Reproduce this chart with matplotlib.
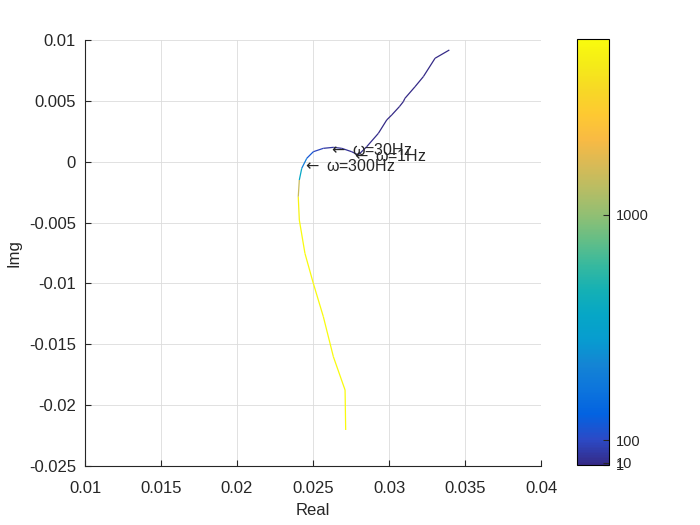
import numpy as np
import matplotlib
matplotlib.use('Agg')
import matplotlib.pyplot as plt
from matplotlib.collections import LineCollection
from matplotlib.colors import LinearSegmentedColormap, Normalize
from matplotlib.ticker import FuncFormatter

plt.rcParams['font.family'] = ['Liberation Sans', 'DejaVu Sans']
plt.rcParams['axes.unicode_minus'] = False
plt.rcParams['mathtext.fontset'] = 'dejavusans'

# frequency response points (real, imag, freq in Hz)
re_part = [0.03397, 0.03303, 0.03226, 0.03171, 0.03105, 0.03094, 0.03068,
           0.03018, 0.02985, 0.02930, 0.02853, 0.02798, 0.02755, 0.02689,
           0.02634, 0.02568, 0.02502, 0.02459, 0.02426, 0.02410, 0.02403,
           0.02410, 0.02447, 0.02502, 0.02568, 0.02634, 0.02711, 0.02715]
im_part = [0.00918, 0.00850, 0.00699, 0.00616, 0.00521, 0.00493, 0.00452,
           0.00384, 0.00343, 0.00233, 0.00123, 0.00055, 0.00082, 0.00110,
           0.00118, 0.00110, 0.00082, 0.00028, -0.00054, -0.00150, -0.00288,
           -0.00479, -0.00753, -0.00999, -0.01273, -0.01602, -0.01876, -0.02204]
freq = [1, 1.5, 2, 2.5, 3, 3.5, 4, 5, 6, 8, 10, 14, 18, 24, 30, 60, 120,
        200, 500, 700, 1600, 1700, 1700, 1700, 1700, 1700, 1700, 1700]

marks = [r'$\leftarrow$ ω=30Hz', r'$\leftarrow$ ω=1Hz', r'$\leftarrow$ ω=300Hz']
mark_x = [0.02597, 0.02750, 0.02427]
mark_y = [0.00100, 0.00047, -0.00035]

cbar_ticks = [1, 10, 100, 1000]

# parula-like colormap
parula_pts = [
    [0.2081, 0.1663, 0.5292], [0.1707, 0.2919, 0.7792], [0.0117, 0.3875, 0.8820],
    [0.0499, 0.4586, 0.8641], [0.0794, 0.5200, 0.8312], [0.0265, 0.6137, 0.8135],
    [0.0228, 0.6535, 0.7768], [0.0843, 0.6928, 0.7062], [0.2178, 0.7250, 0.6193],
    [0.3953, 0.7459, 0.5244], [0.5709, 0.7485, 0.4494], [0.7184, 0.7411, 0.3905],
    [0.8507, 0.7299, 0.3360], [0.9739, 0.7314, 0.2666], [0.9955, 0.7861, 0.1967],
    [0.9697, 0.8481, 0.1475], [0.9598, 0.9218, 0.0948], [0.9763, 0.9831, 0.0538]]
parula = LinearSegmentedColormap.from_list('parula', parula_pts)
norm = Normalize(vmin=1, vmax=1700)

fig = plt.figure(figsize=(7, 5.25), dpi=100)
ax = fig.add_axes([85/700, 1 - 466/525, 456/700, 426/525])

pts = np.column_stack([re_part, im_part])
segs = np.stack([pts[:-1], pts[1:]], axis=1)
f = np.array(freq)
lc = LineCollection(segs, cmap=parula, norm=norm, linewidth=0.9)
lc.set_array((f[:-1] + f[1:]) / 2)
ax.add_collection(lc)

for t, x, y in zip(marks, mark_x, mark_y):
    ax.text(x, y, t, fontsize=11.5, ha='left', va='center', color='#262626')

ax.set_xlim(0.01, 0.04)
ax.set_ylim(-0.025, 0.01)
ax.set_xticks(np.arange(0.01, 0.0401, 0.005))
ax.set_yticks(np.arange(-0.025, 0.0101, 0.005))
fmt = FuncFormatter(lambda v, p: '%g' % round(v, 4))
ax.xaxis.set_major_formatter(fmt)
ax.yaxis.set_major_formatter(fmt)
ax.grid(True, color='#dcdcdc', linewidth=0.6)
ax.set_axisbelow(True)
for s in ['top', 'right']:
    ax.spines[s].set_visible(False)
for s in ['left', 'bottom']:
    ax.spines[s].set_color('#262626')
    ax.spines[s].set_linewidth(0.8)
ax.tick_params(direction='in', length=4, labelsize=12, colors='#262626')
ax.tick_params(axis='x', pad=10.5)
ax.tick_params(axis='y', pad=6.5)
ax.set_xlabel('Real', fontsize=12, color='#262626', labelpad=5)
ax.set_ylabel('Img', fontsize=12, color='#262626', labelpad=5)

cax = fig.add_axes([577/700, 1 - 465/525, 32/700, 426/525])
cb = fig.colorbar(lc, cax=cax)
cb.set_ticks(cbar_ticks)
cb.ax.tick_params(direction='in', length=4, labelsize=10.5, colors='#262626', pad=5)
cb.outline.set_linewidth(0.8)

fig.savefig('out.png', dpi=100, facecolor='white')
